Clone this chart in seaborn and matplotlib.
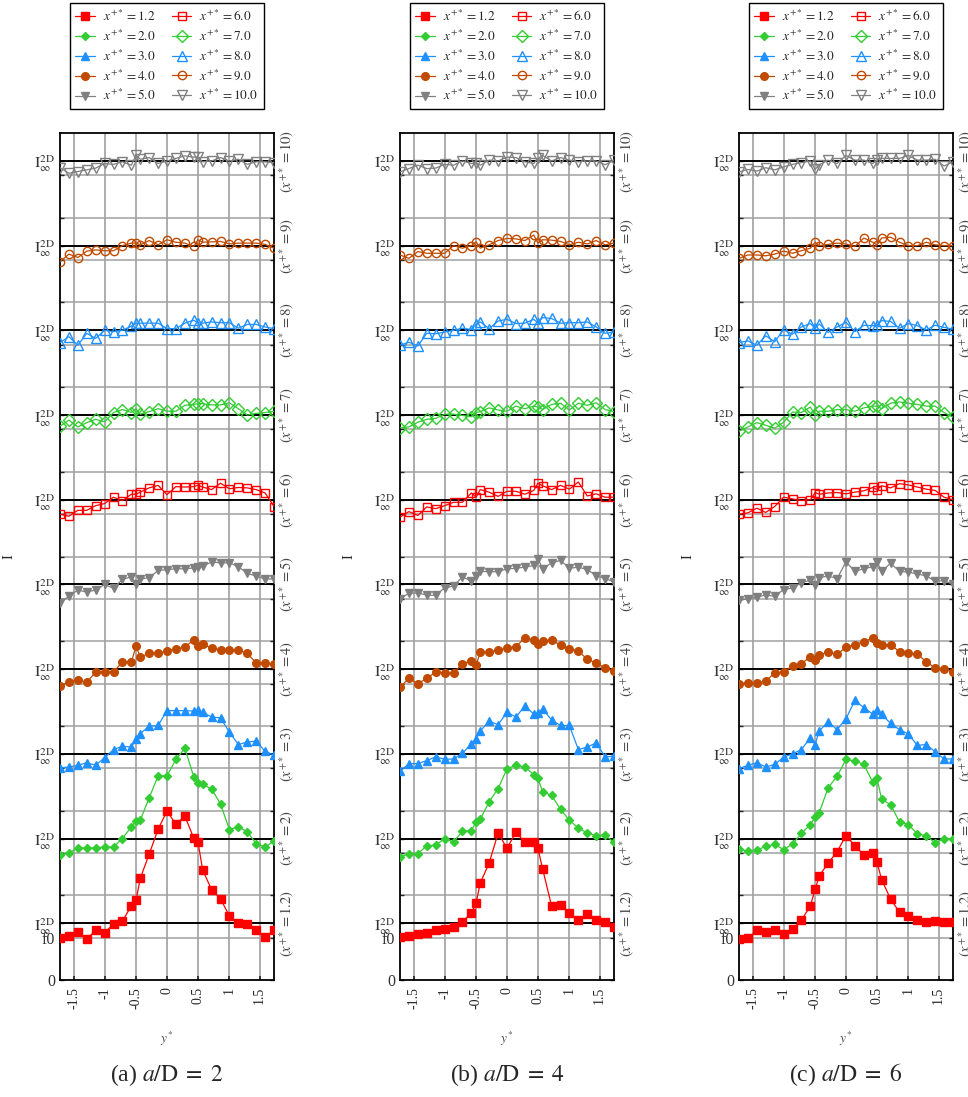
import matplotlib
matplotlib.use("Agg")
import matplotlib.pyplot as plt
import matplotlib.transforms as mtransforms
import seaborn as sns

sns.set_theme(style="white")
plt.rcParams['font.family'] = ['Liberation Serif', 'DejaVu Serif']
plt.rcParams['mathtext.fontset'] = 'stix'
plt.rcParams['axes.unicode_minus'] = False

# spanwise positions y* (shared by all stations)
y_star = [-1.732, -1.588, -1.443, -1.299, -1.155, -1.010, -0.866, -0.722, -0.577, -0.5, -0.433,
          -0.289, -0.144, 0.0, 0.144, 0.289, 0.433, 0.5, 0.577, 0.722, 0.866, 1.010, 1.155,
          1.299, 1.443, 1.588, 1.732]

stations = ["1.2", "2.0", "3.0", "4.0", "5.0", "6.0", "7.0", "8.0", "9.0", "10.0"]
station_tags = ["1.2", "2", "3", "4", "5", "6", "7", "8", "9", "10"]

# deviation from the I_inf^2D reference line of each station (grid units)
# (a) a/D = 2
a_1p2 = [-0.35, -0.29, -0.21, -0.38, -0.16, -0.22, -0.02, 0.05, 0.41, 0.55, 1.06, 1.63, 2.22, 2.65, 2.34, 2.53, 2.01, 1.93, 1.26, 0.79, 0.58, 0.17, 0.0, -0.02, -0.16, -0.33, -0.16]
a_2 = [-0.40, -0.34, -0.22, -0.22, -0.22, -0.20, -0.20, 0.0, 0.28, 0.41, 0.43, 0.96, 1.48, 1.48, 1.87, 2.13, 1.46, 1.31, 1.28, 1.17, 0.82, 0.21, 0.28, 0.16, -0.12, -0.20, -0.06]
a_3 = [-0.33, -0.31, -0.27, -0.21, -0.27, -0.09, 0.10, 0.18, 0.16, 0.35, 0.48, 0.65, 0.67, 1.02, 1.02, 1.02, 1.01, 1.03, 0.98, 0.87, 0.85, 0.51, 0.22, 0.28, 0.30, 0.06, -0.03]
a_4 = [-0.40, -0.30, -0.26, -0.31, -0.07, -0.06, -0.07, 0.17, 0.17, 0.54, 0.29, 0.37, 0.37, 0.43, 0.48, 0.52, 0.69, 0.54, 0.60, 0.49, 0.46, 0.46, 0.46, 0.37, 0.15, 0.15, 0.11]
a_5 = [-0.43, -0.28, -0.13, -0.18, -0.13, 0.0, -0.09, 0.12, 0.18, 0.0, 0.13, 0.16, 0.33, 0.35, 0.37, 0.37, 0.39, 0.41, 0.43, 0.53, 0.51, 0.51, 0.42, 0.26, 0.20, 0.13, 0.13]
a_6 = [-0.34, -0.39, -0.25, -0.25, -0.14, -0.09, 0.06, -0.02, 0.13, 0.13, 0.18, 0.28, 0.34, 0.12, 0.31, 0.30, 0.31, 0.34, 0.30, 0.24, 0.39, 0.26, 0.29, 0.28, 0.24, 0.16, -0.16]
a_7 = [-0.26, -0.12, -0.28, -0.18, -0.10, -0.16, 0.06, 0.13, 0.06, 0.15, 0.02, 0.08, 0.15, 0.09, 0.09, 0.23, 0.25, 0.27, 0.27, 0.24, 0.24, 0.29, 0.15, 0.0, 0.04, 0.06, 0.09]
a_8 = [-0.29, -0.15, -0.35, -0.07, -0.19, 0.0, -0.03, 0.0, 0.10, 0.17, 0.17, 0.17, 0.17, 0.04, 0.04, 0.17, 0.24, 0.18, 0.17, 0.20, 0.18, 0.18, 0.05, 0.14, 0.14, 0.08, 0.04]
a_9 = [-0.38, -0.20, -0.28, -0.13, -0.10, -0.12, -0.12, 0.0, 0.06, 0.06, 0.02, 0.12, 0.02, 0.14, 0.08, 0.06, -0.02, 0.14, 0.08, 0.09, 0.10, 0.04, 0.06, 0.06, 0.06, 0.03, -0.06]
a_10 = [-0.16, -0.29, -0.25, -0.21, -0.17, -0.06, -0.08, -0.02, -0.10, 0.14, 0.04, 0.08, -0.06, 0.0, 0.06, 0.12, 0.09, 0.09, -0.02, 0.0, 0.08, 0.0, 0.04, -0.08, -0.02, -0.02, -0.04]

# (b) a/D = 4
b_1p2 = [-0.33, -0.30, -0.26, -0.23, -0.16, -0.13, -0.09, 0.03, 0.24, 0.48, 0.95, 1.42, 2.13, 1.77, 2.15, 1.91, 1.92, 1.77, 1.28, 0.41, 0.43, 0.24, 0.07, 0.22, 0.07, 0.02, -0.10]
b_2 = [-0.43, -0.36, -0.36, -0.17, -0.16, 0.0, -0.08, 0.17, 0.19, 0.39, 0.45, 0.87, 1.18, 1.65, 1.73, 1.69, 1.51, 1.43, 1.10, 1.02, 0.69, 0.43, 0.25, 0.13, 0.07, 0.08, -0.09]
b_3 = [-0.41, -0.23, -0.23, -0.16, -0.07, -0.13, -0.12, 0.01, 0.24, 0.36, 0.54, 0.77, 0.69, 0.98, 0.87, 1.13, 0.94, 0.97, 1.06, 0.80, 0.67, 0.67, 0.10, 0.16, 0.26, -0.07, -0.06]
b_4 = [-0.42, -0.22, -0.34, -0.22, -0.07, -0.09, -0.09, 0.13, 0.20, 0.09, 0.40, 0.40, 0.45, 0.50, 0.53, 0.74, 0.69, 0.60, 0.66, 0.70, 0.56, 0.48, 0.43, 0.23, 0.15, 0.03, -0.05]
b_5 = [-0.34, -0.21, -0.20, -0.25, -0.26, -0.08, -0.04, 0.18, 0.08, 0.20, 0.31, 0.30, 0.30, 0.37, 0.38, 0.41, 0.45, 0.61, 0.37, 0.51, 0.57, 0.38, 0.41, 0.35, 0.21, 0.14, 0.06]
b_6 = [-0.41, -0.28, -0.37, -0.17, -0.21, -0.14, -0.06, -0.06, 0.16, 0.06, 0.24, 0.18, 0.08, 0.20, 0.20, 0.13, 0.22, 0.39, 0.33, 0.24, 0.34, 0.25, 0.42, 0.09, 0.14, 0.06, 0.06]
b_7 = [-0.30, -0.28, -0.17, -0.10, -0.08, 0.02, 0.02, -0.01, -0.04, 0.06, 0.08, 0.17, 0.12, 0.09, 0.21, 0.15, 0.21, 0.19, 0.13, 0.25, 0.28, 0.12, 0.28, 0.23, 0.29, 0.13, 0.08]
b_8 = [-0.35, -0.28, -0.37, -0.07, -0.08, -0.04, 0.0, 0.05, 0.02, 0.14, 0.20, 0.04, 0.22, 0.26, 0.16, 0.17, 0.26, 0.18, 0.30, 0.28, 0.17, 0.18, 0.18, 0.20, 0.08, -0.07, -0.04]
b_9 = [-0.22, -0.30, -0.14, -0.18, -0.18, -0.18, 0.0, -0.06, 0.0, 0.09, -0.06, 0.02, 0.12, 0.17, 0.16, 0.12, 0.25, 0.06, 0.14, 0.13, 0.10, 0.02, 0.08, 0.04, 0.12, 0.02, 0.06]
b_10 = [-0.26, -0.18, -0.10, -0.18, -0.17, -0.08, -0.10, 0.0, -0.06, -0.06, -0.10, 0.02, 0.0, 0.09, 0.08, -0.02, -0.06, 0.06, 0.13, 0.0, 0.08, 0.02, -0.02, 0.0, 0.0, -0.09, 0.02]

# (c) a/D = 6
c_1p2 = [-0.38, -0.35, -0.17, -0.21, -0.17, -0.25, -0.13, 0.07, 0.41, 0.80, 1.12, 1.42, 1.69, 2.07, 1.83, 1.61, 1.65, 1.45, 1.03, 0.57, 0.26, 0.17, 0.08, 0.02, 0.05, 0.02, 0.02]
c_2 = [-0.24, -0.30, -0.28, -0.18, -0.14, -0.26, -0.13, 0.12, 0.33, 0.50, 0.61, 1.20, 1.47, 1.87, 1.83, 1.75, 1.33, 1.43, 0.93, 0.80, 0.39, 0.33, 0.11, 0.06, -0.10, 0.0, 0.0]
c_3 = [-0.35, -0.27, -0.21, -0.31, -0.25, -0.08, 0.0, 0.10, 0.38, 0.22, 0.54, 0.76, 0.57, 0.83, 1.26, 1.09, 0.94, 1.03, 0.93, 0.72, 0.57, 0.47, 0.20, 0.22, 0.05, -0.12, -0.12]
c_4 = [-0.35, -0.32, -0.32, -0.28, -0.09, -0.06, 0.07, 0.13, 0.29, 0.21, 0.33, 0.41, 0.35, 0.52, 0.58, 0.65, 0.74, 0.61, 0.58, 0.58, 0.41, 0.37, 0.36, 0.17, 0.03, 0.01, -0.07]
c_5 = [-0.37, -0.34, -0.30, -0.25, -0.28, -0.12, -0.08, 0.04, 0.10, -0.02, 0.16, 0.20, 0.14, 0.53, 0.31, 0.37, 0.42, 0.54, 0.31, 0.50, 0.31, 0.29, 0.25, 0.20, 0.08, 0.09, 0.0]
c_6 = [-0.34, -0.31, -0.20, -0.30, -0.16, 0.06, 0.02, -0.02, 0.0, 0.17, 0.13, 0.16, 0.17, 0.14, 0.18, 0.21, 0.29, 0.24, 0.33, 0.28, 0.38, 0.35, 0.30, 0.25, 0.22, 0.06, 0.0]
c_7 = [-0.38, -0.28, -0.18, -0.24, -0.31, -0.17, 0.07, 0.06, 0.19, -0.01, 0.09, 0.09, 0.13, 0.13, 0.09, 0.17, 0.21, 0.21, 0.15, 0.28, 0.31, 0.28, 0.25, 0.21, 0.21, 0.06, -0.05]
c_8 = [-0.29, -0.25, -0.35, -0.13, -0.27, 0.01, -0.09, 0.08, 0.16, 0.05, 0.15, -0.05, 0.08, 0.19, -0.03, 0.12, 0.11, 0.12, 0.23, 0.21, 0.05, 0.16, 0.11, 0.01, 0.12, 0.07, 0.03]
c_9 = [-0.30, -0.22, -0.22, -0.24, -0.20, -0.13, -0.18, -0.12, -0.06, 0.08, 0.0, 0.03, 0.06, 0.04, -0.02, 0.18, 0.08, 0.02, 0.18, 0.20, 0.08, 0.0, 0.0, 0.08, 0.02, 0.0, 0.0]
c_10 = [-0.26, -0.20, -0.24, -0.16, -0.21, -0.14, -0.08, -0.04, 0.0, -0.20, -0.09, 0.02, -0.06, 0.13, 0.02, 0.02, -0.06, 0.02, 0.06, 0.06, 0.06, 0.13, 0.02, 0.02, 0.04, -0.12, -0.02]

panels = [
    ("(a) $a/\\mathrm{D}\\;=\\;2$", [a_1p2, a_2, a_3, a_4, a_5, a_6, a_7, a_8, a_9, a_10]),
    ("(b) $a/\\mathrm{D}\\;=\\;4$", [b_1p2, b_2, b_3, b_4, b_5, b_6, b_7, b_8, b_9, b_10]),
    ("(c) $a/\\mathrm{D}\\;=\\;6$", [c_1p2, c_2, c_3, c_4, c_5, c_6, c_7, c_8, c_9, c_10]),
]

# styles: colour, marker, size, filled
colores = ['#ff0000', '#33cc33', '#1e90ff', '#c04a00', '#808080'] * 2
marcadores = ['s', 'D', '^', 'o', 'v'] * 2
tamanos = [5.5, 4.5, 6, 5.5, 6, 6, 6, 7, 6, 7]
rellenos = [True] * 5 + [False] * 5

f0 = 1.0
shift = 0.34     # I_inf^2D above f0
step = 2.0       # vertical offset between stations

fig = plt.figure(figsize=(9.68, 10.97), dpi=100)
lefts = [60, 400, 739]

for p, (caption, series) in enumerate(panels):
    ax = fig.add_axes([lefts[p] / 968, 1 - 980 / 1097, 214 / 968, 847 / 1097])
    baselines = [f0 + shift + step * k for k in range(len(series))]

    # gray grid and black reference lines
    for yv in range(1, 20):
        ax.axhline(yv, color='#a8a8a8', lw=1.2, zorder=0)
    for b in baselines:
        ax.axhline(b, color='black', lw=1.4, zorder=1)
    for xv in [-1.5, -1, -0.5, 0, 0.5, 1, 1.5]:
        ax.axvline(xv, color='#a0a0a0', lw=1.2, zorder=0)

    for k, vals in enumerate(series):
        c = colores[k]
        sns.lineplot(x=y_star, y=[baselines[k] + v for v in vals],
                     ax=ax, color=c, marker=marcadores[k], markersize=tamanos[k],
                     markerfacecolor=c if rellenos[k] else 'none', markeredgecolor=c,
                     markeredgewidth=1.0, linewidth=0.9, errorbar=None, sort=False,
                     label=f"$x^{{+*}} = {stations[k]}$", legend=False, zorder=3)
        ax.text(1.06, baselines[k], f"$(x^{{+*}} = {station_tags[k]})$",
                transform=mtransforms.blended_transform_factory(ax.transAxes, ax.transData),
                rotation=90, ha='center', va='center', fontsize=10.5, color='#444444')

    ax.set_xlim(-1.732, 1.732)
    ax.set_ylim(0, 20)
    ax.set_xticks([-1.5, -1, -0.5, 0, 0.5, 1, 1.5])
    ax.set_xticklabels(["-1.5", "-1", "-0.5", "0", "0.5", "1", "1.5"], rotation=90, fontsize=10)
    ax.set_yticks([0, f0] + baselines)
    ax.set_yticklabels(["0", "f0"] + ["$\\mathrm{I}^{\\mathrm{2D}}_{\\infty}$"] * len(baselines),
                       fontsize=11.5, color='#333333')
    ax.set_yticks(range(1, 20), minor=True)
    ax.tick_params(axis='y', which='both', direction='in', left=True, right=True, length=3, width=1)
    ax.tick_params(axis='x', direction='in', bottom=True, length=3, pad=5)
    for s in ax.spines.values():
        s.set_color('black')
        s.set_linewidth(1.3)
    ax.set_ylabel("I", fontsize=10.5)
    ax.yaxis.set_label_coords(-45 / 214, 0.5)
    ax.set_xlabel("$y^{*}$", fontsize=9.5, color='#444444')
    ax.xaxis.set_label_coords(0.5, -50 / 847)

    handles, labels = ax.get_legend_handles_labels()
    ax.legend(handles, labels, loc='upper center', bbox_to_anchor=(0.5, 1.1535), ncol=2,
              frameon=True, fancybox=False, edgecolor='black', fontsize=9.5,
              handlelength=1.5, columnspacing=1.2, labelspacing=0.36, borderpad=0.45,
              handletextpad=0.6, borderaxespad=0, framealpha=1)
    ax.get_legend().get_frame().set_linewidth(1.0)

    fig.text((lefts[p] + 107) / 968, 1 - 1075 / 1097, caption, ha='center', va='center',
             fontsize=17)

plt.savefig("out.png", dpi=100)
